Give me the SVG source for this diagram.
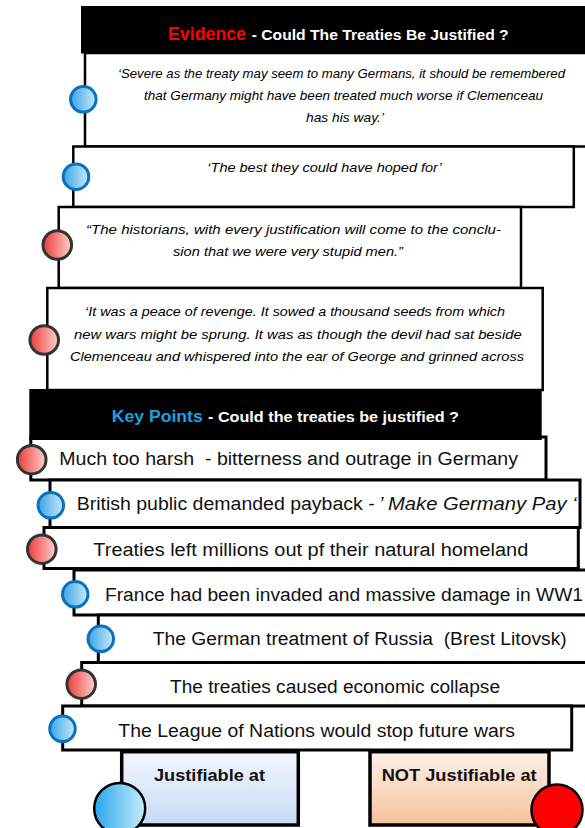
<svg xmlns="http://www.w3.org/2000/svg" width="585" height="828" viewBox="0 0 585 828">
<defs>
<linearGradient id="gb" x1="0" y1="0" x2="1" y2="0"><stop offset="0" stop-color="#3aa4e6"/><stop offset="1" stop-color="#c8e9fb"/></linearGradient>
<linearGradient id="gr" x1="0" y1="0" x2="1" y2="0"><stop offset="0" stop-color="#ee3a3a"/><stop offset="1" stop-color="#fdd0d0"/></linearGradient>
<linearGradient id="gbig" x1="0" y1="0" x2="1" y2="0"><stop offset="0" stop-color="#2aa6ea"/><stop offset="1" stop-color="#c6ecf9"/></linearGradient>
<linearGradient id="gjus" x1="0" y1="0" x2="0" y2="1"><stop offset="0" stop-color="#f2f6fd"/><stop offset="1" stop-color="#c6daf6"/></linearGradient>
<linearGradient id="gnot" x1="0" y1="0" x2="0" y2="1"><stop offset="0" stop-color="#fdf0e8"/><stop offset="1" stop-color="#f7c29c"/></linearGradient>
</defs>
<style>
.box{fill:#fff;stroke:#000;stroke-width:2.5}
.kbox{fill:#fff;stroke:#000;stroke-width:3}
.hdr{fill:#000}
.q{font-family:"Liberation Sans",Arial,sans-serif;font-style:italic;font-size:13px;fill:#000}
.kt{font-family:"Liberation Sans",Arial,sans-serif;font-size:18px;fill:#111;white-space:pre}
.hb{font-family:"Liberation Sans",Arial,sans-serif;font-weight:bold}
.dotb{fill:url(#gb);stroke:#0a70c0;stroke-width:3}
.dotr{fill:url(#gr);stroke:#333;stroke-width:3}
</style>
<g id="connectors"/>
<g id="evidence-1">
<rect class="box" x="85" y="53" width="520" height="93.5"/>
</g>
<g id="evidence-header">
<rect class="hdr" x="81" y="6" width="510" height="47.5"/>
<text class="hb" x="168" y="39.5" font-size="18" fill="#ff0000" textLength="78" lengthAdjust="spacingAndGlyphs">Evidence</text>
<text class="hb" x="251.7" y="39.5" font-size="14.5" fill="#fff" textLength="257" lengthAdjust="spacingAndGlyphs">- Could The Treaties Be Justified ?</text>
</g>
<g id="evidence-1-text">
<text class="q" x="118" y="78" textLength="447" lengthAdjust="spacingAndGlyphs">‘Severe as the treaty may seem to many Germans, it should be remembered</text>
<text class="q" x="144" y="99.5" textLength="399" lengthAdjust="spacingAndGlyphs">that Germany might have been treated much worse if Clemenceau</text>
<text class="q" x="306" y="121.5" textLength="78" lengthAdjust="spacingAndGlyphs">has his way.’</text>
</g>
<g id="evidence-2">
<rect class="box" x="73.3" y="146.5" width="500.5" height="60.5"/>
<text class="q" x="207.3" y="172" textLength="234.4" lengthAdjust="spacingAndGlyphs">‘The best they could have hoped for’</text>
</g>
<g id="evidence-3">
<rect class="box" x="58.7" y="207" width="462.3" height="81"/>
<text class="q" x="86" y="234" textLength="415" lengthAdjust="spacingAndGlyphs">“The historians, with every justification will come to the conclu-</text>
<text class="q" x="173" y="256" textLength="230" lengthAdjust="spacingAndGlyphs">sion that we were very stupid men.”</text>
</g>
<g id="evidence-4">
<rect class="box" x="47.3" y="288" width="495.4" height="102"/>
<text class="q" x="85" y="316" textLength="420" lengthAdjust="spacingAndGlyphs">‘It was a peace of revenge. It sowed a thousand seeds from which</text>
<text class="q" x="74" y="338.5" textLength="447.7" lengthAdjust="spacingAndGlyphs">new wars might be sprung. It was as though the devil had sat beside</text>
<text class="q" x="70" y="361" textLength="454" lengthAdjust="spacingAndGlyphs">Clemenceau and whispered into the ear of George and grinned across</text>
</g>
<g id="kp-1">
<rect class="kbox" x="30.8" y="437" width="515.2" height="43"/>
<text class="kt" x="59.3" y="465" textLength="458.7" lengthAdjust="spacingAndGlyphs">Much too harsh  - bitterness and outrage in Germany</text>
</g>
<g id="kp-header">
<rect class="hdr" x="29.3" y="389" width="512.4" height="51"/>
<text class="hb" x="111.7" y="422" font-size="16" fill="#1ba1e2" textLength="91" lengthAdjust="spacingAndGlyphs">Key Points</text>
<text class="hb" x="208" y="422" font-size="14" fill="#fff" textLength="251" lengthAdjust="spacingAndGlyphs">- Could the treaties be justified ?</text>
</g>
<g id="kp-2">
<rect class="kbox" x="50" y="480" width="530" height="47.5"/>
<text class="kt" x="76.7" y="509.5" textLength="298" lengthAdjust="spacingAndGlyphs">British public demanded payback -</text>
<text class="kt" x="379" y="509.5" font-style="italic" textLength="197.7" lengthAdjust="spacingAndGlyphs">’ Make Germany Pay ‘</text>
</g>
<g id="kp-3">
<rect class="kbox" x="44" y="527.5" width="534.3" height="41"/>
<text class="kt" x="93.3" y="556" textLength="435" lengthAdjust="spacingAndGlyphs">Treaties left millions out pf their natural homeland</text>
</g>
<g id="kp-4">
<rect class="kbox" x="74" y="570" width="530" height="45"/>
<text class="kt" x="105" y="601" textLength="478" lengthAdjust="spacingAndGlyphs">France had been invaded and massive damage in WW1</text>
</g>
<g id="kp-5">
<rect class="kbox" x="98.3" y="615" width="510" height="47.5"/>
<text class="kt" x="152.7" y="644.5" textLength="414" lengthAdjust="spacingAndGlyphs">The German treatment of Russia  (Brest Litovsk)</text>
</g>
<g id="kp-6">
<rect class="kbox" x="81.7" y="662.5" width="520" height="43.5"/>
<text class="kt" x="170" y="693.3" textLength="330" lengthAdjust="spacingAndGlyphs">The treaties caused economic collapse</text>
</g>
<g id="kp-7">
<rect class="kbox" x="62.7" y="706" width="509" height="44"/>
<text class="kt" x="118.3" y="736.7" textLength="396.7" lengthAdjust="spacingAndGlyphs">The League of Nations would stop future wars</text>
</g>
<g id="dots">
<circle class="dotb" cx="83.3" cy="99.3" r="12.75"/>
<circle class="dotb" cx="76" cy="176.7" r="12.75"/>
<circle class="dotr" cx="57.3" cy="245" r="14.3"/>
<circle class="dotr" cx="44.2" cy="340" r="14.3"/>
<circle class="dotr" cx="31.7" cy="459.7" r="14.3"/>
<circle class="dotb" cx="50.8" cy="505.3" r="12.75"/>
<circle class="dotr" cx="41.8" cy="549.2" r="14.3"/>
<circle class="dotb" cx="75.2" cy="594.3" r="12.75"/>
<circle class="dotb" cx="100.8" cy="638.8" r="12.75"/>
<circle class="dotr" cx="81.2" cy="684.2" r="14.3"/>
<circle class="dotb" cx="62.5" cy="728.8" r="12.75"/>
</g>
<g id="justifiable">
<rect x="121.7" y="751.7" width="176.6" height="73.3" fill="url(#gjus)" stroke="#000" stroke-width="3.5"/>
<text class="hb" x="154" y="781" font-size="17" fill="#111" textLength="111" lengthAdjust="spacingAndGlyphs">Justifiable at</text>
<circle cx="119.7" cy="808.5" r="25.5" fill="url(#gbig)" stroke="#000" stroke-width="2.5"/>
</g>
<g id="not-justifiable">
<rect x="370" y="751.7" width="179" height="73.3" fill="url(#gnot)" stroke="#000" stroke-width="3.5"/>
<text class="hb" x="381.7" y="781" font-size="17" fill="#111" textLength="155" lengthAdjust="spacingAndGlyphs">NOT Justifiable at</text>
<circle cx="557" cy="810" r="25.5" fill="#ff0000" stroke="#000" stroke-width="2.5"/>
</g>
</svg>
